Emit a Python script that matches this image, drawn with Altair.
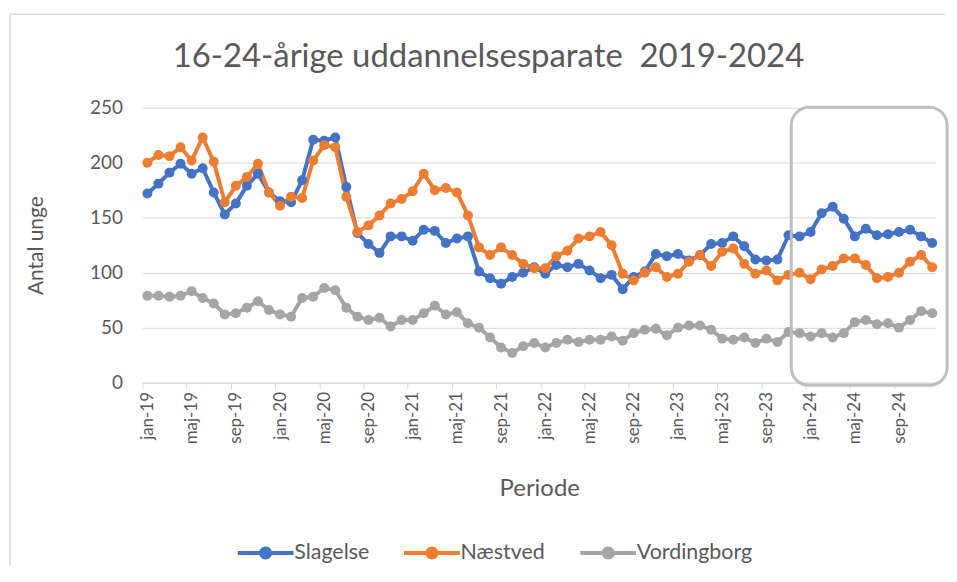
import altair as alt
import pandas as pd

month_names = ["jan", "feb", "mar", "apr", "maj", "jun", "jul", "aug", "sep", "okt", "nov", "dec"]
years = [19, 20, 21, 22, 23, 24]
periods = [f"{m}-{y}" for y in years for m in month_names]

slagelse = [172, 181, 191, 199, 190, 195, 173, 153, 163, 179, 190, 173,
            165, 164, 184, 221, 220, 223, 178, 136, 126, 118, 133, 133,
            129, 139, 138, 127, 131, 133, 101, 95, 90, 96, 100, 105,
            99, 107, 105, 108, 102, 95, 98, 85, 96, 101, 117, 115,
            117, 111, 116, 126, 127, 133, 124, 112, 111, 112, 134, 133,
            137, 154, 160, 149, 133, 140, 134, 135, 137, 139, 133, 127]
naestved = [200, 207, 206, 214, 202, 223, 201, 164, 179, 187, 199, 173,
            161, 169, 168, 202, 216, 214, 169, 137, 143, 152, 163, 167,
            174, 190, 175, 177, 173, 152, 123, 116, 123, 116, 108, 104,
            104, 115, 120, 131, 133, 137, 125, 99, 93, 100, 105, 96,
            99, 110, 116, 106, 119, 122, 108, 99, 102, 93, 98, 100,
            94, 103, 106, 113, 113, 107, 95, 96, 100, 110, 116, 105]
vordingborg = [79, 79, 78, 79, 83, 77, 72, 62, 63, 68, 74, 66,
               62, 60, 77, 78, 86, 84, 68, 60, 57, 59, 51, 57,
               57, 63, 70, 62, 64, 54, 50, 41, 32, 27, 33, 36,
               32, 36, 39, 37, 39, 39, 42, 38, 45, 48, 49, 43,
               50, 52, 52, 48, 40, 39, 41, 36, 40, 37, 46, 45,
               42, 45, 41, 45, 55, 57, 53, 54, 50, 57, 65, 63]

series_names = ["Slagelse", "Næstved", "Vordingborg"]
series_values = [slagelse, naestved, vordingborg]
series_colors = ["#4472C4", "#ED7D31", "#A5A5A5"]

# highlight box (data coordinates: month index / value)
box_x = [58.25, 72.35]
box_y = [250.5, -2.5]

rows = []
for name, vals in zip(series_names, series_values):
    for i, v in enumerate(vals):
        rows.append({"idx": i, "Periode": periods[i], "serie": name, "value": v})
df = pd.DataFrame(rows)

TXT = "#595959"
FONT = "Lato"
GRID = "#D9D9D9"

month_arr = "[" + ",".join(f"'{m}'" for m in month_names) + "]"
label_expr = f"{month_arr}[datum.value % 12] + '-' + (19 + floor(datum.value / 12))"

x_enc = alt.X(
    "idx:Q",
    scale=alt.Scale(domain=[-0.45, 71.35], nice=False, zero=False),
    axis=alt.Axis(
        values=list(range(0, 72, 4)),
        labelExpr=label_expr,
        title="Periode",
        labelAngle=270,
        labelFontSize=17,
        labelColor=TXT,
        labelFont=FONT,
        labelPadding=3,
        tickOffset=-5,
        labelOffset=5,
        tickSize=6,
        tickColor=GRID,
        tickWidth=1,
        domainColor=GRID,
        domainWidth=1,
        grid=False,
        titleFontSize=24,
        titleFont=FONT,
        titleColor=TXT,
        titleFontWeight="normal",
        titlePadding=33,
    ),
)
y_enc = alt.Y(
    "value:Q",
    scale=alt.Scale(domain=[0, 250], nice=False),
    axis=alt.Axis(
        values=[0, 50, 100, 150, 200, 250],
        title="Antal unge",
        labelFontSize=19,
        labelColor=TXT,
        labelFont=FONT,
        labelPadding=20,
        ticks=False,
        tickSize=0,
        domain=False,
        gridColor=GRID,
        gridWidth=1,
        titleFontSize=21,
        titleFont=FONT,
        titleColor=TXT,
        titleFontWeight="normal",
        titlePadding=43,
    ),
)

legend_path = ("M-4,-0.29H4V0.29H-4Z "
               "M0.93,0A0.93,0.93,0,1,1,-0.93,0A0.93,0.93,0,1,1,0.93,0Z")

base = alt.Chart(df)

# one line layer per series (fixed colour), no legend from these
line_layers = []
for k, (name, col) in enumerate(zip(series_names, series_colors)):
    enc = dict(x=x_enc, y=y_enc) if k == 0 else dict(x="idx:Q", y="value:Q")
    line_layers.append(
        base.transform_filter(alt.datum.serie == name)
        .mark_line(strokeWidth=4, color=col)
        .encode(**enc)
    )

points = base.mark_circle(size=100, opacity=1).encode(
    x="idx:Q",
    y="value:Q",
    color=alt.Color(
        "serie:N",
        scale=alt.Scale(domain=series_names, range=series_colors),
        sort=series_names,
        legend=alt.Legend(
            title=None,
            orient="none",
            legendX=113,
            legendY=436,
            direction="horizontal",
            symbolType=legend_path,
            symbolSize=196,
            symbolStrokeWidth=0,
            symbolOpacity=1,
            labelFontSize=21.5,
            labelFont=FONT,
            labelColor=TXT,
            labelOffset=18,
            columnPadding=34,
            padding=0,
        ),
    ),
)

box_df = pd.DataFrame({"x": [box_x[0]], "x2": [box_x[1]], "y": [box_y[0]], "y2": [box_y[1]]})
box = alt.Chart(box_df).mark_rect(
    cornerRadius=18, fill="white", fillOpacity=0, stroke="#BFBFBF", strokeWidth=3
).encode(x="x:Q", x2="x2:Q", y="y:Q", y2="y2:Q")

border_top = alt.Chart(box_df).mark_rule(color=GRID, strokeWidth=1.5).encode(
    x=alt.value(-133), x2=alt.value(806), y=alt.value(-94)
)
border_left = alt.Chart(box_df).mark_rule(color=GRID, strokeWidth=1.5).encode(
    x=alt.value(-133), y=alt.value(-94), y2=alt.value(460)
)

chart = alt.layer(border_top, border_left, *line_layers, points, box).properties(
    width=797,
    height=276,
    padding={"left": 1, "top": 4, "right": 0, "bottom": 0},
    title=alt.TitleParams(
        text="16-24-årige uddannelsesparate\u00a0 2019-2024",
        fontSize=33,
        font=FONT,
        color=TXT,
        fontWeight="normal",
        anchor="middle",
        dx=-51,
        offset=-61,
    ),
    background="white",
).configure_view(stroke=None)

chart.save("out.html", embed_options={"renderer": "svg", "actions": False})
